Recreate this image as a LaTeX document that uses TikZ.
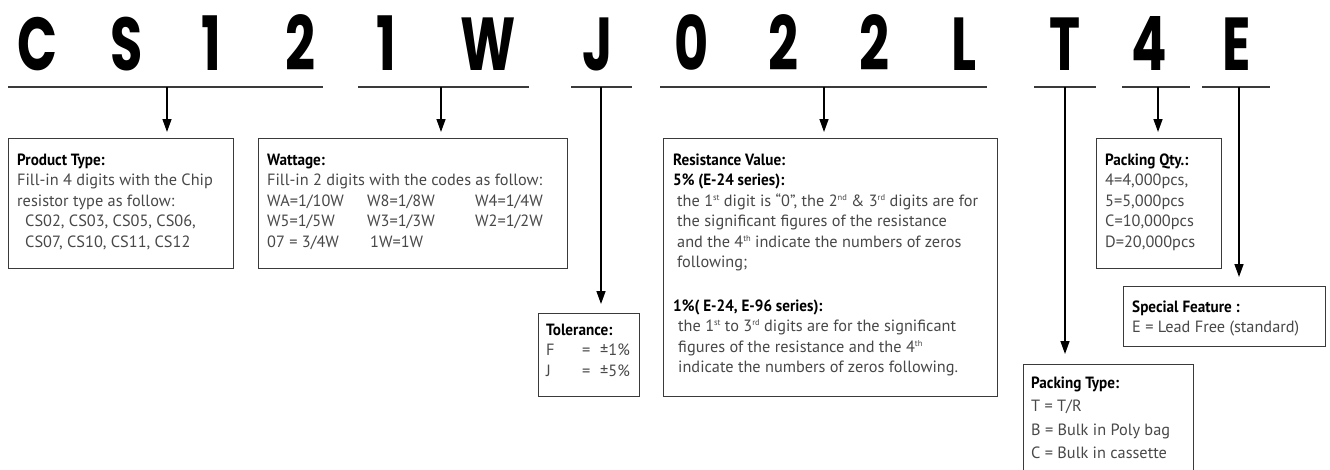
\documentclass[tikz,border=0pt]{standalone}
\usepackage{fontspec}
\setmainfont{PT Sans}
\newfontfamily\codefont{Poppins}
\usetikzlibrary{arrows.meta}
\definecolor{bordergray}{HTML}{3A3A3A}
\definecolor{txtgray}{HTML}{484848}
\newcommand\boxlines[1]{\begin{tabular}[t]{@{}l@{}}#1\end{tabular}}
\newcommand\ttl[1]{\textcolor{black}{\scalebox{0.93}[1]{\textbf{#1}}}}
\newcommand\sups[1]{\raisebox{6pt}{\fontsize{8.5}{8.5}\selectfont #1}}
\begin{document}
\begin{tikzpicture}[x=1pt,y=-1pt,
  boxed/.style={draw=bordergray, line width=1.1pt, inner sep=0pt, anchor=north west},
  arr/.style={line width=1.4pt, -{Triangle[width=9pt,length=13pt]}, shorten >=6pt},
  uline/.style={line width=1.5pt, draw=bordergray},
  code/.style={font=\codefont\bfseries\fontsize{75}{75}\selectfont, anchor=base, inner sep=0pt},
  body/.style={anchor=base west, inner sep=0pt, font=\fontsize{16.3}{20.5}\selectfont, text=txtgray},
]
\clip (0,0) rectangle (1330,469);
\fill[white] (0,0) rectangle (1330,469);

% code letters
\foreach \ch/\xx [count=\i] in {C/38,S/127,1/211,2/300,1/386,W/488,J/598,0/692,2/783,2/874,L/964,T/1065,4/1149,E/1237}
  \node[code] (l\i) at (\xx,70) {\scalebox{0.7}[1]{\ch}};

% underline segments with arrow origins
\coordinate (s1a) at (8,87);    \coordinate (s1b) at (323,87);  \coordinate (o1) at (167,87);
\coordinate (s2a) at (358,87);  \coordinate (s2b) at (529,87);  \coordinate (o2) at (441,87);
\coordinate (s3a) at (571,87);  \coordinate (s3b) at (632,87);  \coordinate (o3) at (601,87);
\coordinate (s4a) at (660,87);  \coordinate (s4b) at (987,87);  \coordinate (o4) at (824,87);
\coordinate (s5a) at (1034,87); \coordinate (s5b) at (1096,87); \coordinate (o5) at (1065,87);
\coordinate (s6a) at (1122,87); \coordinate (s6b) at (1190,87); \coordinate (o6) at (1158,87);
\coordinate (s7a) at (1202,87); \coordinate (s7b) at (1270,87); \coordinate (o7) at (1239,87);
\foreach \k in {1,...,7} \draw[uline] (s\k a) -- (s\k b);

% boxes
\node[boxed, minimum width=225pt, minimum height=130pt] (ptype) at (8,138) {};
\node[boxed, minimum width=309pt, minimum height=130pt] (watt) at (258,138) {};
\node[boxed, minimum width=101pt, minimum height=83pt] (tol) at (538,313) {};
\node[boxed, minimum width=334pt, minimum height=258pt] (res) at (663,138) {};
\node[boxed, minimum width=125pt, minimum height=130pt] (pqty) at (1096,138) {};
\node[boxed, minimum width=202pt, minimum height=60pt] (spec) at (1123,286) {};
\node[boxed, minimum width=170pt, minimum height=130pt] (ptyp) at (1023,364) {};

% arrows
\draw[arr] (o1) -- (o1 |- ptype.north);
\draw[arr] (o2) -- (o2 |- watt.north);
\draw[arr, shorten >=9pt] (o3) -- (o3 |- tol.north);
\draw[arr] (o4) -- (o4 |- res.north);
\draw[arr, shorten >=10pt] (o5) -- (o5 |- ptyp.north);
\draw[arr] (o6) -- (o6 |- pqty.north);
\draw[arr, shorten >=9pt] (o7) -- (o7 |- spec.north);

% texts
\node[body] (tpt) at (17,165) {\boxlines{\ttl{Product Type:}\\
Fill-in 4 digits with the Chip\\
resistor type as follow:\\
\hspace{8pt}CS02, CS03, CS05, CS06,\\
\hspace{8pt}CS07, CS10, CS11, CS12}};

\node[body] (twt) at (267,165) {\boxlines{\ttl{Wattage:}\\
Fill-in 2 digits with the codes as follow:\\
\makebox[100pt][l]{WA=1/10W}\makebox[108pt][l]{W8=1/8W}W4=1/4W\\
\makebox[100pt][l]{W5=1/5W}\makebox[108pt][l]{W3=1/3W}W2=1/2W\\
\makebox[103pt][l]{07 = 3/4W}1W=1W}};

\node[body] (ttol) at (546,335) {\boxlines{\ttl{Tolerance:}\\
\makebox[36pt][l]{F}\makebox[18pt][l]{=}±1\%\\
\makebox[36pt][l]{J}\makebox[18pt][l]{=}±5\%}};

\node[body] (tres1) at (673,165) {\boxlines{\ttl{Resistance Value:}\\
\ttl{5\% (E-24 series):}\\
\hspace{4pt}the 1\sups{st} digit is “0”, the 2\sups{nd} \& 3\sups{rd} digits are for\\
\hspace{4pt}the significant figures of the resistance\\
\hspace{4pt}and the 4\sups{th} indicate the numbers of zeros\\
\hspace{4pt}following;}};

\node[body] (tres2) at (673,311) {\boxlines{\ttl{1\%( E-24, E-96 series):}\\
\hspace{5pt}the 1\sups{st} to 3\sups{rd} digits are for the significant\\
\hspace{5pt}figures of the resistance and the 4\sups{th}\\
\hspace{5pt}indicate the numbers of zeros following.}};

\node[body] (tpq) at (1105,165) {\boxlines{\ttl{Packing Qty.:}\\
4=4,000pcs,\\
5=5,000pcs\\
C=10,000pcs\\
D=20,000pcs}};

\node[body] (tsf) at (1132,312) {\boxlines{\ttl{Special Feature :}\\
E = Lead Free (standard)}};

\node[body, font=\fontsize{16.3}{23.5}\selectfont] (tpk) at (1031,388) {\boxlines{\ttl{Packing Type:}\\
T = T/R\\
B = Bulk in Poly bag\\
C = Bulk in cassette}};
\end{tikzpicture}
\end{document}
